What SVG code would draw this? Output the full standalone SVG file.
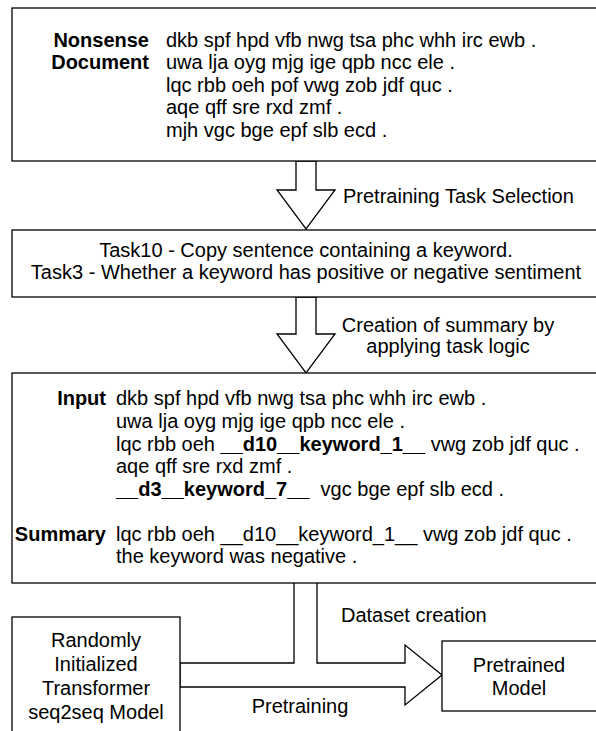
<svg xmlns="http://www.w3.org/2000/svg" width="596" height="731" viewBox="0 0 596 731">
<style>
.box{fill:#fff;stroke:#000;stroke-width:1.3}
.arr{fill:#fff;stroke:#000;stroke-width:1.3;stroke-linejoin:miter}
text{font-family:"Liberation Sans",Arial,sans-serif;font-size:20px;fill:#000}
.b{font-weight:bold}
.e{text-anchor:end}
.m{text-anchor:middle}
</style>
<rect width="596" height="731" fill="#fff"/>
<g id="connectors">
<polygon class="arr" points="296,161 316,161 316,190 335,190 306,229 277,190 296,190"/>
<polygon class="arr" points="296,297 316,297 316,334 335,334 306,373 277,334 296,334"/>
<polyline class="arr" points="294,583 294,663 180,663 180,687 405,687 405,705 442,675 405,645 405,663 317,663 317,583"/>
<text x="343" y="203">Pretraining Task Selection</text>
<text class="m" x="448" y="332">Creation of summary by</text>
<text class="m" x="448" y="353">applying task logic</text>
<text x="341" y="622">Dataset creation</text>
<text class="m" x="300" y="713">Pretraining</text>
</g>
<g id="doc">
<rect class="box" x="12" y="8" width="600" height="153"/>
<text class="b e" x="149" y="47">Nonsense</text>
<text class="b e" x="149" y="69">Document</text>
<text x="166" y="47">dkb spf hpd vfb nwg tsa phc whh irc ewb .</text>
<text x="166" y="69">uwa lja oyg mjg ige qpb ncc ele .</text>
<text x="166" y="92">lqc rbb oeh pof vwg zob jdf quc .</text>
<text x="166" y="114">aqe qff sre rxd zmf .</text>
<text x="166" y="137">mjh vgc bge epf slb ecd .</text>
</g>
<g id="tasks">
<rect class="box" x="12" y="230" width="600" height="67"/>
<text class="m" x="306" y="257">Task10 - Copy sentence containing a keyword.</text>
<text class="m" x="306" y="279">Task3 - Whether a keyword has positive or negative sentiment</text>
</g>
<g id="summary">
<rect class="box" x="12" y="373" width="600" height="210"/>
<text class="b e" x="106" y="405">Input</text>
<text x="116" y="405">dkb spf hpd vfb nwg tsa phc whh irc ewb .</text>
<text x="116" y="428">uwa lja oyg mjg ige qpb ncc ele .</text>
<text x="116" y="451">lqc rbb oeh <tspan class="b">__d10__keyword_1__</tspan> vwg zob jdf quc .</text>
<text x="116" y="473">aqe qff sre rxd zmf .</text>
<text x="116" y="496" xml:space="preserve"><tspan class="b">__d3__keyword_7__</tspan>  vgc bge epf slb ecd .</text>
<text class="b e" x="106" y="541">Summary</text>
<text x="116" y="541">lqc rbb oeh __d10__keyword_1__ vwg zob jdf quc .</text>
<text x="116" y="563">the keyword was negative .</text>
</g>
<g id="random-model">
<rect class="box" x="12" y="617" width="168" height="130"/>
<text class="m" x="96" y="647">Randomly</text>
<text class="m" x="96" y="671">Initialized</text>
<text class="m" x="96" y="695">Transformer</text>
<text class="m" x="96" y="719">seq2seq Model</text>
</g>
<g id="pretrained-model">
<rect class="box" x="442" y="641" width="170" height="70"/>
<text class="m" x="519" y="672">Pretrained</text>
<text class="m" x="519" y="695">Model</text>
</g>
</svg>
